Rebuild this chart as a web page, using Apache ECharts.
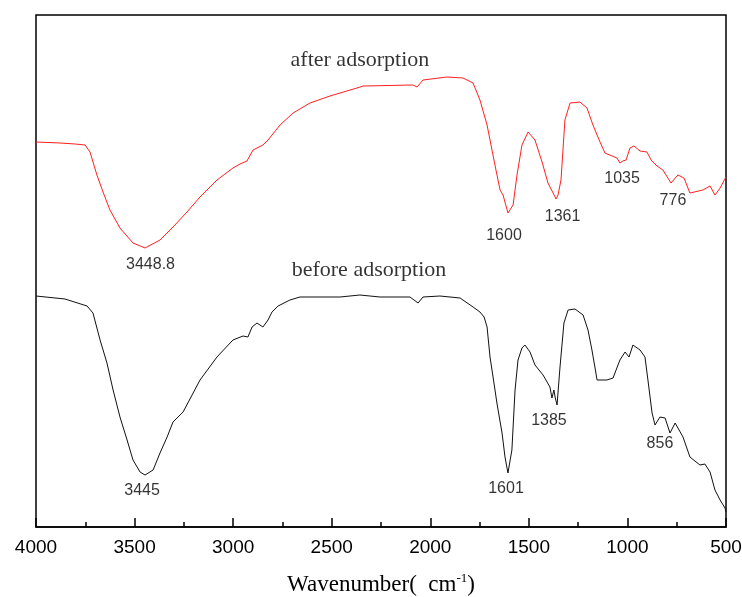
<!DOCTYPE html>
<html>
<head>
<meta charset="utf-8">
<script src="https://cdn.jsdelivr.net/npm/echarts@6/dist/echarts.min.js"></script>
<style>html,body{margin:0;padding:0;background:#fff;}#c{width:742px;height:597px;}</style>
</head>
<body>
<div id="c"></div>
<script>
// After adsorption (red) spectrum: wavenumber (cm-1) and relative transmittance
const redWn = [4000,3878,3802,3751,3726,3691,3660,3625,3574,3508,3447,3371,3305,3234,3168,3082,3001,2965,2930,2899,2849,2823,2762,2696,2610,2509,2372,2341,2088,2067,2037,1915,1834,1783,1748,1712,1697,1672,1646,1631,1606,1596,1580,1560,1535,1504,1469,1433,1403,1377,1362,1352,1337,1317,1291,1241,1205,1175,1139,1114,1053,1038,1023,1007,987,967,936,901,880,850,820,779,744,713,683,617,581,556,530,500];
const redT  = [385,384,383,382,375,352,335,317,299,284,279,287,300,315,330,347,359,363,366,377,382,387,402,414,424,431,439,441,442,440,447,450,449,444,427,402,387,362,337,332,314,314,322,352,382,395,387,365,344,334,328,332,347,407,424,425,419,402,385,374,369,364,366,367,379,381,376,375,367,361,357,344,352,349,334,337,341,332,339,350];
// Before adsorption (black) spectrum
const blackWn = [4000,3853,3741,3711,3675,3640,3609,3574,3538,3508,3472,3447,3406,3371,3335,3305,3254,3168,3082,3001,2950,2925,2904,2879,2849,2823,2803,2772,2712,2661,2458,2357,2255,2103,2062,2037,1951,1849,1783,1748,1727,1712,1697,1677,1662,1636,1621,1606,1596,1586,1570,1555,1535,1520,1494,1469,1428,1393,1383,1373,1367,1357,1342,1322,1301,1266,1225,1200,1180,1165,1154,1104,1073,1038,1012,992,972,936,911,896,875,860,835,809,784,758,718,683,632,607,581,556,530,505,500];
const blackT  = [231,228,221,214,187,164,137,110,87,67,55,52,57,74,90,105,115,147,170,187,191,190,200,204,200,207,215,221,227,230,230,232,230,230,224,230,231,229,220,215,210,200,170,144,124,94,70,54,55,77,137,167,179,182,175,162,152,140,129,137,130,122,160,204,217,218,212,197,177,160,147,147,149,167,175,170,182,177,170,147,114,102,110,109,94,104,90,70,62,63,55,37,27,19,15];
// Peak annotations (label text, wavenumber, level)
const peakText = ['3448.8','1600','1361','1035','776','3445','1601','1385','856'];
const peakWn   = [3419,1626,1329,1027,769,3462,1616,1398,835];
const peakY    = [262,291,310,348,326,36,38,106,83];
// Curve names
const curveText = ['after adsorption','before adsorption'];
const curveWn   = [2357,2311];
const curveY    = [467,257];
// Axis ticks
const xMin = 500, xMax = 4000, xStep = 500;

const zip = (a,b) => a.map((v,i)=>[v,b[i]]);
const chart = echarts.init(document.getElementById('c'), null, {renderer:'canvas'});
chart.setOption({
  animation:false,
  backgroundColor:'#fff',
  grid:{left:36,right:16,top:15,bottom:70,containLabel:false,outerBoundsMode:'none',show:true,borderColor:'#000',borderWidth:1.5,backgroundColor:'transparent'},
  xAxis:{
    type:'value', min:xMin, max:xMax, interval:xStep, inverse:true,
    axisLine:{show:true,lineStyle:{color:'#000',width:1.5}},
    axisTick:{show:true,inside:true,length:9,lineStyle:{color:'#000',width:1.5}},
    minorTick:{show:true,splitNumber:2,length:5,lineStyle:{color:'#000',width:1.5}},
    splitLine:{show:false},
    axisLabel:{color:'#000',fontSize:19,fontFamily:'Liberation Sans, Arial, sans-serif',margin:11,showMinLabel:true,showMaxLabel:true,formatter:v=>String(v)},
    name:'Wavenumber(  cm{sup|-1})',
    nameLocation:'middle', nameGap:45,
    nameTextStyle:{color:'#000',fontSize:23,fontFamily:'Liberation Serif, Times New Roman, serif',
      rich:{sup:{fontSize:13,fontFamily:'Liberation Serif, serif',color:'#000',padding:[0,0,12,0]}}}
  },
  yAxis:{type:'value',min:0,max:512,show:false},
  series:[
    {type:'line',data:zip(redWn,redT),showSymbol:false,lineStyle:{color:'#ff2020',width:1},itemStyle:{color:'#ff2020'},silent:true},
    {type:'line',data:zip(blackWn,blackT),showSymbol:false,lineStyle:{color:'#111',width:1},itemStyle:{color:'#111'},silent:true},
    {type:'scatter',symbolSize:1,itemStyle:{color:'rgba(0,0,0,0)'},silent:true,
      data:peakText.map((t,i)=>({name:t,value:[peakWn[i],peakY[i]]})),
      label:{show:true,position:'inside',formatter:'{b}',color:'#000',fontSize:16,fontFamily:'Liberation Sans, Arial, sans-serif'}},
    {type:'scatter',symbolSize:1,itemStyle:{color:'rgba(0,0,0,0)'},silent:true,
      data:curveText.map((t,i)=>({name:t,value:[curveWn[i],curveY[i]]})),
      label:{show:true,position:'inside',formatter:'{b}',color:'#000',fontSize:22,fontFamily:'Liberation Serif, Times New Roman, serif'}}
  ]
});
</script>
</body>
</html>
